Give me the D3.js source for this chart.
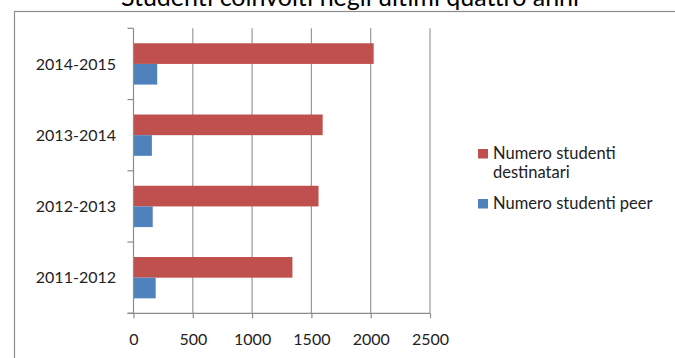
<!DOCTYPE html>
<html>
<head>
<meta charset="utf-8">
<script src="https://cdn.jsdelivr.net/npm/d3@7"></script>
<style>
  html, body { margin: 0; padding: 0; background: #fff; }
  svg { display: block; font-family: Lato, "Open Sans", sans-serif; }
</style>
</head>
<body>
<svg id="chart" width="675" height="358"></svg>
<script>
// Academic years, listed top to bottom
const years = ["2014-2015", "2013-2014", "2012-2013", "2011-2012"];
// Students reached by the programme
const destinatari = [2025, 1595, 1560, 1340];
// Peer students involved
const peer = [200, 155, 162, 187];
const xTicks = [0, 500, 1000, 1500, 2000, 2500];
const seriesNames = ["Numero studenti destinatari", "Numero studenti peer"];
const seriesColors = ["#C0504D", "#4F81BD"];
const title = "Studenti coinvolti negli ultimi quattro anni";

const svg = d3.select("#chart");

// outer frame of the chart area
svg.append("rect")
  .attr("x", 14.5).attr("y", 11.5)
  .attr("width", 700).attr("height", 400)
  .attr("fill", "#fff").attr("stroke", "#8c8c8c").attr("stroke-width", 1.2);

// title, sitting at the very top edge
svg.append("text")
  .attr("x", 350).attr("y", 6)
  .attr("text-anchor", "middle")
  .attr("font-size", 25).attr("fill", "#000")
  .text(title);

const plot = { left: 133.5, right: 430, top: 28.3, bottom: 313.3 };

const x = d3.scaleLinear().domain([0, 2500]).range([plot.left, plot.right]);
const y = d3.scaleBand().domain(years).range([plot.top, plot.bottom]).paddingInner(0.42).paddingOuter(0.21);
const sub = d3.scaleBand().domain([0, 1]).range([0, y.bandwidth()]);

// vertical gridlines
svg.append("g").selectAll("line").data(xTicks.slice(1)).join("line")
  .attr("x1", d => x(d)).attr("x2", d => x(d))
  .attr("y1", plot.top).attr("y2", plot.bottom)
  .attr("stroke", "#9a9a9a").attr("stroke-width", 1.2);

// bars
const rows = years.map((yr, i) => ({ yr, vals: [destinatari[i], peer[i]] }));
const g = svg.append("g");
rows.forEach(r => {
  r.vals.forEach((v, s) => {
    g.append("rect")
      .attr("x", x(0))
      .attr("y", y(r.yr) + sub(s))
      .attr("width", x(v) - x(0))
      .attr("height", sub.bandwidth())
      .attr("fill", seriesColors[s]);
  });
});

// x axis
const xAxis = svg.append("g")
  .attr("transform", `translate(0,${plot.bottom})`)
  .call(d3.axisBottom(x).tickValues(xTicks).tickFormat(d3.format("d"))
    .tickSize(5).tickPadding(15).tickSizeOuter(0));
xAxis.select(".domain").attr("stroke", "#8c8c8c").attr("stroke-width", 1.2)
  .attr("d", `M${plot.left - 6},0H${plot.right}`);
xAxis.selectAll(".tick line").attr("stroke", "#8c8c8c").attr("stroke-width", 1.2);
xAxis.selectAll(".tick text").attr("font-size", 16).attr("fill", "#222")
  .attr("font-family", "Lato, sans-serif");

// y axis: ticks between categories
const yAxisG = svg.append("g");
yAxisG.append("line")
  .attr("x1", plot.left).attr("x2", plot.left)
  .attr("y1", plot.top).attr("y2", plot.bottom)
  .attr("stroke", "#8c8c8c").attr("stroke-width", 1.2);
const boundaries = d3.range(years.length + 1).map(i => plot.top + i * y.step());
yAxisG.selectAll("line.tk").data(boundaries).join("line").attr("class", "tk")
  .attr("x1", plot.left - 6).attr("x2", plot.left)
  .attr("y1", d => d).attr("y2", d => d)
  .attr("stroke", "#8c8c8c").attr("stroke-width", 1.2);
yAxisG.selectAll("text").data(years).join("text")
  .attr("x", 116)
  .attr("y", d => y(d) + y.bandwidth() / 2)
  .attr("dy", "0.35em")
  .attr("text-anchor", "end")
  .attr("font-size", 16).attr("fill", "#222")
  .text(d => d);

// legend
const legend = svg.append("g");
const legendItems = [
  { lines: ["Numero studenti", "destinatari"], color: seriesColors[0], y: 159 },
  { lines: ["Numero studenti peer"], color: seriesColors[1], y: 209 }
];
legendItems.forEach(it => {
  legend.append("rect")
    .attr("x", 478).attr("y", it.y - 10)
    .attr("width", 10).attr("height", 9.5)
    .attr("fill", it.color);
  const t = legend.append("text")
    .attr("x", 493).attr("y", it.y)
    .attr("font-size", 16.5).attr("fill", "#222");
  it.lines.forEach((ln, k) => {
    t.append("tspan").attr("x", 493).attr("dy", k === 0 ? 0 : 19).text(ln);
  });
});
</script>
</body>
</html>
